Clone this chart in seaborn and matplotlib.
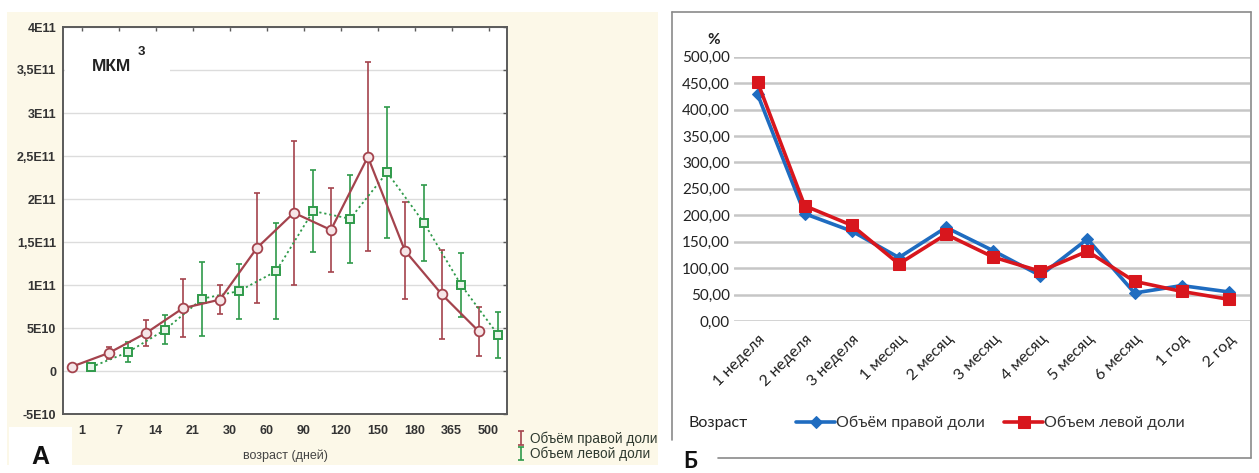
import numpy as np
import pandas as pd
import matplotlib
matplotlib.use("Agg")
import matplotlib.pyplot as plt
import seaborn as sns
from matplotlib.lines import Line2D
from matplotlib.patches import Rectangle

# ---------------- data ----------------
# Panel A (Statistica-like): mean volume, um^3, with error bars
age_days = ["1", "7", "14", "21", "30", "60", "90", "120", "150", "180", "365", "500"]
right_mean = [0.5e10, 2.1e10, 4.4e10, 7.3e10, 8.3e10, 1.43e11, 1.84e11, 1.64e11, 2.49e11, 1.40e11, 0.89e11, 0.46e11]
right_err = [0.2e10, 0.7e10, 1.5e10, 3.4e10, 1.7e10, 6.4e10, 8.4e10, 4.9e10, 1.1e11, 5.6e10, 5.2e10, 2.8e10]
left_mean = [0.45e10, 2.2e10, 4.8e10, 8.4e10, 9.3e10, 1.16e11, 1.86e11, 1.77e11, 2.31e11, 1.72e11, 1.0e11, 0.42e11]
left_err = [0.2e10, 1.15e10, 1.7e10, 4.3e10, 3.2e10, 5.6e10, 4.8e10, 5.1e10, 7.6e10, 4.4e10, 3.75e10, 2.7e10]
a_yticks = [-5e10, 0, 5e10, 1e11, 1.5e11, 2e11, 2.5e11, 3e11, 3.5e11, 4e11]
a_yticklabels = ["-5E10", "0", "5E10", "1E11", "1,5E11", "2E11", "2,5E11", "3E11", "3,5E11", "4E11"]
a_series = ["Объём правой доли", "Объем левой доли"]

# Panel Б (Excel-like): percent growth
periods = ["1 неделя", "2 неделя", "3 неделя", "1 месяц", "2 месяц", "3 месяц",
           "4 месяц", "5 месяц", "6 месяц", "1 год", "2 год"]
right_pct = [429, 203, 170, 120, 177, 133, 86, 155, 53, 67, 55]
left_pct = [452, 218, 181, 108, 164, 121, 94, 132, 75, 56, 41]
b_yticks = list(range(0, 501, 50))
b_yticklabels = [f"{v},00" for v in b_yticks]
b_series = ["Объём правой доли", "Объем левой доли"]

# ---------------- style ----------------
sns.set_theme(style="white")
plt.rcParams["font.family"] = ["Liberation Sans", "DejaVu Sans"]

W, H = 1259, 473
fig = plt.figure(figsize=(W / 100, H / 100), dpi=100)
fig.patch.set_facecolor("white")

def fx(px):
    return px / W

def fy(py):
    return 1 - py / H

# beige background of panel A
fig.patches.append(Rectangle((fx(7), fy(465)), fx(658) - fx(7), fy(12) - fy(465),
                             transform=fig.transFigure, facecolor="#fcf8e8",
                             edgecolor="none", zorder=-2))
fig.patches.append(Rectangle((fx(9), fy(471)), fx(72) - fx(9), fy(427) - fy(471),
                             transform=fig.transFigure, facecolor="white",
                             edgecolor="none", zorder=-1))

# ---------------- Panel A ----------------
red_a = "#a4434d"
green_a = "#2f9a4a"
ax1 = fig.add_axes([fx(63), fy(414), fx(507) - fx(63), fy(27) - fy(414)])
ax1.set_facecolor("white")
pos = np.arange(len(age_days))
dodge = 0.26
df_r = pd.DataFrame({"x": pos - dodge, "y": right_mean})
df_l = pd.DataFrame({"x": pos + dodge, "y": left_mean})

sns.lineplot(data=df_l, x="x", y="y", ax=ax1, color=green_a, lw=1.3, linestyle=(0, (1.2, 1.6)),
             marker="s", markersize=6, markerfacecolor="#e8f4ea", markeredgecolor=green_a,
             markeredgewidth=1.4, zorder=3)
sns.lineplot(data=df_r, x="x", y="y", ax=ax1, color=red_a, lw=1.6,
             marker="o", markersize=7, markerfacecolor="#f6e6e8", markeredgecolor=red_a,
             markeredgewidth=1.3, zorder=4)
eb_r = ax1.errorbar(pos - dodge, right_mean, yerr=right_err, fmt="none", ecolor=red_a,
                    elinewidth=1.2, capsize=2.2, capthick=1.2, zorder=2, label=a_series[0])
eb_l = ax1.errorbar(pos + dodge, left_mean, yerr=left_err, fmt="none", ecolor=green_a,
                    elinewidth=1.2, capsize=2.2, capthick=1.2, zorder=2, label=a_series[1])

ax1.set_xlim(-0.5, len(age_days) - 0.5)
ax1.set_ylim(-5e10, 4e11)
ax1.set_xticks(pos)
ax1.set_xticklabels(age_days)
ax1.set_yticks(a_yticks)
ax1.set_yticklabels(a_yticklabels)
ax1.yaxis.grid(True, color="#dcdcdc", lw=1.0)
ax1.xaxis.grid(False)
ax1.set_axisbelow(True)
for s in ax1.spines.values():
    s.set_visible(True)
    s.set_color("#5a5a5a")
    s.set_linewidth(1.4)
ax1.tick_params(axis="both", direction="in", top=True, right=True, length=3, width=1,
                color="#5a5a5a", labelsize=9, labelcolor="#333333", pad=5)
ax1.tick_params(axis="x", pad=8)
for lab in ax1.get_yticklabels() + ax1.get_xticklabels():
    lab.set_fontweight("bold")
ax1.set_xlabel("возраст (дней)", fontsize=9, color="#444444", labelpad=9)
ax1.set_ylabel("")
# white patch behind the unit label (hides part of the 3.5E11 gridline)
ax1.add_patch(Rectangle((0.004, 0.855), 0.237, 0.08, transform=ax1.transAxes,
                        facecolor="white", edgecolor="none", zorder=1))
ax1.text(0.065, 0.898, "МКМ", transform=ax1.transAxes, fontsize=12.5, fontweight="bold",
         color="#222222", va="center", ha="left", zorder=6)
ax1.text(0.168, 0.935, "3", transform=ax1.transAxes, fontsize=9.5, fontweight="bold",
         color="#222222", va="center", ha="left", zorder=6)

leg1 = fig.legend(handles=[eb_r, eb_l], labels=a_series, loc="upper left",
                  bbox_to_anchor=(fx(507), fy(422)), frameon=False, fontsize=9.8,
                  handlelength=0.7, handletextpad=0.3, labelspacing=0.05, borderpad=0.2)
for t in leg1.get_texts():
    t.set_color("#2f3a30")

fig.text(fx(40), fy(457), "А", fontsize=18, fontweight="bold", ha="center", va="center", color="#111111")

# ---------------- Panel Б ----------------
blue_b = "#1f6cc0"
red_b = "#d8161d"
ax2 = fig.add_axes([fx(734), fy(321), fx(1250) - fx(734), fy(56.7) - fy(321)])
ax2.set_facecolor("white")
xb = np.arange(len(periods))
df_b = pd.DataFrame({"x": np.concatenate([xb, xb]),
                     "y": right_pct + left_pct,
                     "series": [b_series[0]] * len(xb) + [b_series[1]] * len(xb)})
sns.lineplot(data=df_b[df_b.series == b_series[0]], x="x", y="y", ax=ax2, color=blue_b, lw=2.6,
             marker="D", markersize=6.5, markeredgecolor=blue_b, markerfacecolor=blue_b,
             label=b_series[0], zorder=3)
sns.lineplot(data=df_b[df_b.series == b_series[1]], x="x", y="y", ax=ax2, color=red_b, lw=2.6,
             marker="s", markersize=9, markeredgecolor=red_b, markerfacecolor=red_b,
             label=b_series[1], zorder=4)
ax2.set_xlim(-0.5, len(periods) - 0.55)
ax2.set_ylim(0, 500)
ax2.set_yticks(b_yticks)
ax2.set_yticklabels(b_yticklabels)
ax2.set_xticks(xb)
ax2.set_xticklabels(periods, rotation=45, ha="right", rotation_mode="anchor")
ax2.yaxis.grid(True, color="#c6c6c6", lw=1.8)
ax2.xaxis.grid(False)
ax2.set_axisbelow(True)
for s in ax2.spines.values():
    s.set_visible(False)
ax2.tick_params(axis="y", length=0, labelsize=11, labelcolor="#222222", pad=3)
ax2.tick_params(axis="x", length=0, labelsize=11.5, labelcolor="#222222", pad=8)
for lab in ax2.get_yticklabels() + ax2.get_xticklabels():
    lab.set_family(["Lato", "DejaVu Sans"])
ax2.set_xlabel("")
ax2.set_ylabel("")
ax2.legend_.remove()
h, l = ax2.get_legend_handles_labels()
leg2 = fig.legend(h, l, loc="center left", bbox_to_anchor=(fx(782), fy(423)), ncol=2,
                  frameon=False, handlelength=2.4, handletextpad=0.1,
                  columnspacing=1.2, prop={"family": ["Lato", "DejaVu Sans"], "size": 11.5})
for t in leg2.get_texts():
    t.set_color("#333333")

fig.text(fx(714), fy(40), "%", fontsize=11, fontweight="bold", ha="center", va="center",
         family=["Lato", "DejaVu Sans"], color="#222222")
fig.text(fx(688), fy(423), "Возраст", fontsize=11.5, ha="left", va="center",
         family=["Lato", "DejaVu Sans"], color="#222222")
fig.text(fx(690), fy(461), "Б", fontsize=16, fontweight="bold", ha="center", va="center",
         family=["Lato", "DejaVu Sans"], color="#111111")

# frame of panel Б
frame_kw = dict(transform=fig.transFigure, color="#8a8a8a", lw=1.2)
fig.add_artist(Line2D([fx(672), fx(672)], [fy(12), fy(440)], **frame_kw))
fig.add_artist(Line2D([fx(672), fx(1251)], [fy(12), fy(12)], **frame_kw))
fig.add_artist(Line2D([fx(1251), fx(1251)], [fy(12), fy(458)], **frame_kw))
fig.add_artist(Line2D([fx(718), fx(1251)], [fy(458), fy(458)], **frame_kw))

fig.savefig("out.png", dpi=100, facecolor="white")
